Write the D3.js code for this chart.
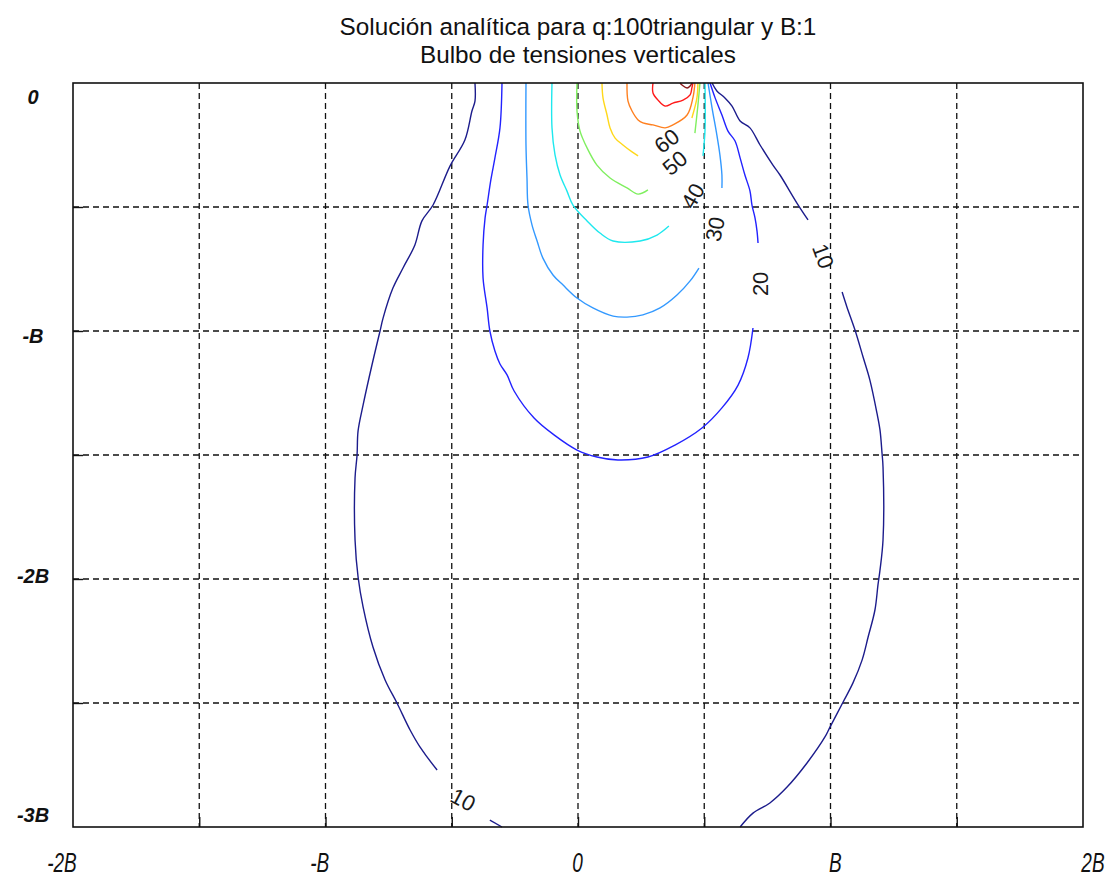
<!DOCTYPE html>
<html>
<head>
<meta charset="utf-8">
<script src="https://cdn.jsdelivr.net/npm/d3@7"></script>
<style>
  html, body { margin: 0; padding: 0; background: #fff; }
  svg { display: block; }
</style>
</head>
<body>
<svg id="chart" width="1111" height="880"></svg>
<script>
// Vertical stress bulb under a triangular strip load (q = 100, B = 1).
// Coordinates are in units of B: x horizontal, z depth (negative downwards).

const titleLines = ["Solución analítica para q:100triangular y B:1", "Bulbo de tensiones verticales"];

const xTickValues = [-2, -1, 0, 1, 2];
const xTickLabels = ["-2B", "-B", "0", "B", "2B"];
const zTickValues = [0, -1, -2, -3];
const zTickLabels = ["0", "-B", "-2B", "-3B"];
const xGrid = [-1.5, -1, -0.5, 0, 0.5, 1, 1.5];
const zGrid = [-0.5, -1, -1.5, -2, -2.5];

const levels = [10, 20, 30, 40, 50, 60, 70, 80, 90];

// Each isoline is a list of traced pieces of [x, z] points.
const iso10 = [
  [[-0.408,0],[-0.408,-0.073],[-0.420,-0.113],[-0.448,-0.230],[-0.507,-0.335],[-0.574,-0.492],
   [-0.618,-0.556],[-0.646,-0.653],[-0.693,-0.746],[-0.733,-0.827],[-0.772,-0.948],[-0.784,-1.000],
   [-0.816,-1.137],[-0.851,-1.298],[-0.871,-1.403],[-0.875,-1.500],[-0.883,-1.593],[-0.883,-1.843],
   [-0.871,-1.992],[-0.851,-2.113],[-0.812,-2.274],[-0.764,-2.407],[-0.717,-2.500],
   [-0.665,-2.609],[-0.626,-2.677],[-0.558,-2.770]],
  [[-0.349,-2.972],[-0.301,-3.0]],
  [[0.531,0],[0.550,-0.032],[0.582,-0.060],[0.610,-0.093],[0.642,-0.153],[0.681,-0.181],
   [0.721,-0.250],[0.772,-0.331],[0.800,-0.371],[0.867,-0.484],[0.911,-0.552]],
  [[1.046,-0.843],[1.065,-0.903],[1.097,-0.996],[1.129,-1.105],[1.156,-1.198],[1.184,-1.331],
   [1.196,-1.399],[1.204,-1.492],[1.208,-1.548],[1.208,-1.843],[1.196,-1.964],[1.188,-2.024],
   [1.176,-2.125],[1.149,-2.234],[1.125,-2.327],[1.089,-2.419],[1.050,-2.496],[0.998,-2.597],
   [0.978,-2.637],[0.907,-2.742],[0.828,-2.839],[0.760,-2.903],[0.693,-2.944],[0.642,-3.0]]
];
const iso20 = [
  [[-0.301,0],[-0.309,-0.181],[-0.329,-0.302],[-0.345,-0.390],[-0.360,-0.492],
   [-0.368,-0.544],[-0.376,-0.653],[-0.376,-0.786],[-0.360,-0.907],[-0.349,-1.000],[-0.329,-1.081],
   [-0.309,-1.133],[-0.281,-1.177],[-0.253,-1.242],[-0.174,-1.351],[-0.095,-1.419],[-0.004,-1.480],
   [0.075,-1.508],[0.158,-1.520],[0.277,-1.508],[0.384,-1.460],[0.491,-1.391],[0.570,-1.310],
   [0.634,-1.218],[0.673,-1.109],[0.693,-0.988]],
  [[0.523,0],[0.543,-0.060],[0.570,-0.129],[0.594,-0.194],[0.622,-0.234],[0.642,-0.302],
   [0.661,-0.371],[0.681,-0.435],[0.689,-0.492],[0.701,-0.544],[0.709,-0.597],[0.713,-0.645]]
];
const iso30 = [
  [[-0.206,0],[-0.206,-0.250],[-0.202,-0.383],[-0.198,-0.492],[-0.182,-0.573],[-0.162,-0.637],
   [-0.139,-0.706],[-0.099,-0.774],[-0.059,-0.815],[-0.004,-0.867],[0.059,-0.907],[0.139,-0.940],
   [0.194,-0.944],[0.257,-0.935],[0.325,-0.907],[0.392,-0.855],[0.444,-0.798],[0.479,-0.746]],
  [[0.515,0],[0.531,-0.101],[0.550,-0.210],[0.562,-0.290],[0.570,-0.371],[0.570,-0.423]]
];
const iso40 = [
  [[-0.103,0],[-0.103,-0.181],[-0.091,-0.290],[-0.071,-0.371],[-0.044,-0.435],[-0.020,-0.492],
   [0.036,-0.556],[0.087,-0.605],[0.139,-0.637],[0.246,-0.637],[0.313,-0.613],[0.360,-0.577]],
  [[0.503,0],[0.503,-0.190],[0.495,-0.294]]
];
const iso50 = [
  [[-0.004,0],[-0.004,-0.113],[0.008,-0.194],[0.036,-0.262],[0.075,-0.331],[0.127,-0.383],
   [0.194,-0.423],[0.238,-0.448],[0.277,-0.431]],
  [[0.483,0],[0.475,-0.089],[0.463,-0.202]]
];
const iso60 = [
  [[0.095,0],[0.099,-0.060],[0.115,-0.129],[0.127,-0.181],[0.147,-0.222],[0.178,-0.250],
   [0.214,-0.278],[0.238,-0.294]],
  [[0.475,0],[0.471,-0.060],[0.451,-0.141]]
];
const iso70 = [
  [[0.194,0],[0.198,-0.073],[0.214,-0.113],[0.238,-0.149],[0.257,-0.161],[0.297,-0.169],
   [0.345,-0.181],[0.376,-0.169],[0.432,-0.129],[0.455,-0.060],[0.463,0]]
];
const iso80 = [
  [[0.297,0],[0.297,-0.040],[0.317,-0.069],[0.345,-0.093],[0.376,-0.081],[0.416,-0.069],
   [0.444,-0.048],[0.451,-0.020],[0.455,0]]
];
const iso90 = [
  [[0.404,0],[0.412,-0.008],[0.432,-0.020],[0.444,-0.012],[0.451,0]]
];
const isolines = [iso10, iso20, iso30, iso40, iso50, iso60, iso70, iso80, iso90];

// Inline level labels: value, anchor point [x, z], rotation in degrees.
const labelValues = [60, 50, 40, 30, 20, 10, 10];
const labelPoints = [[0.352,-0.234],[0.384,-0.323],[0.455,-0.456],[0.543,-0.589],[0.721,-0.810],[0.970,-0.698],[-0.455,-2.891]];
const labelAngles = [-38, -40, -60, -78, -90, 70, 28];

const levelColors = ["#1c1c8c", "#2222ff", "#3399ff", "#1ee8ee", "#7fef5f", "#ffd81a", "#ff8020", "#ff1a1a", "#8b1a1a"];

const svg = d3.select("#chart");
const plotLeft = 73, plotRight = 1083, plotTop = 83, plotBottom = 827;

const x = d3.scaleLinear().domain([-2, 2]).range([plotLeft, plotRight]);
const z = d3.scaleLinear().domain([0, -3]).range([plotTop, plotBottom]);
// Tick text is spread slightly wider than the frame.
const xText = d3.scaleLinear().domain([-2, 2]).range([62, 1093]);
const zText = d3.scaleLinear().domain([0, -3]).range([97, 815]);

svg.append("rect").attr("width", 1111).attr("height", 880).attr("fill", "#fff");

// Title
svg.append("g").selectAll("text").data(titleLines).join("text")
  .attr("x", x(0)).attr("y", (d, i) => 35 + i * 28)
  .attr("text-anchor", "middle")
  .attr("font-family", "'Liberation Sans', Arial, sans-serif")
  .attr("font-size", 24.3)
  .attr("fill", "#111")
  .text(d => d);

// Grid
const grid = svg.append("g").attr("stroke", "#111").attr("stroke-width", 1.3).attr("stroke-dasharray", "6,4");
grid.selectAll("line.gx").data(xGrid).join("line")
  .attr("x1", d => x(d)).attr("x2", d => x(d)).attr("y1", plotTop).attr("y2", plotBottom);
grid.selectAll("line.gz").data(zGrid).join("line")
  .attr("x1", plotLeft).attr("x2", plotRight).attr("y1", d => z(d)).attr("y2", d => z(d));

// Inward ticks on the bottom and left edges
const xAxis = d3.axisBottom(x).tickValues(d3.range(-1.5, 1.51, 0.5)).tickSizeInner(-10).tickSizeOuter(0).tickFormat("");
svg.append("g").attr("transform", `translate(0,${plotBottom})`).call(xAxis)
  .call(g => g.select(".domain").remove())
  .call(g => g.selectAll("line").attr("stroke", "#111").attr("stroke-width", 1.4));
const zAxis = d3.axisLeft(z).tickValues(d3.range(-0.5, -2.51, -0.5)).tickSizeInner(-10).tickSizeOuter(0).tickFormat("");
svg.append("g").attr("transform", `translate(${plotLeft},0)`).call(zAxis)
  .call(g => g.select(".domain").remove())
  .call(g => g.selectAll("line").attr("stroke", "#111").attr("stroke-width", 1.4));

// Isolines
const line = d3.line().x(d => x(d[0])).y(d => z(d[1])).curve(d3.curveCatmullRom.alpha(0.5));
const isoG = svg.append("g").attr("fill", "none").attr("stroke-width", 1.4).attr("stroke-linejoin", "round");
isolines.forEach((pieces, i) => {
  isoG.append("g").attr("stroke", levelColors[i])
    .selectAll("path").data(pieces).join("path").attr("d", line);
});

// Level labels
svg.append("g").selectAll("text").data(labelValues).join("text")
  .attr("transform", (d, i) => `translate(${x(labelPoints[i][0])},${z(labelPoints[i][1])}) rotate(${labelAngles[i]})`)
  .attr("text-anchor", "middle")
  .attr("dominant-baseline", "central")
  .attr("font-family", "'Liberation Sans', Arial, sans-serif")
  .attr("font-size", 22)
  .attr("fill", "#1a1a1a")
  .text(d => d);

// Frame
svg.append("rect").attr("x", plotLeft).attr("y", plotTop).attr("width", plotRight - plotLeft).attr("height", plotBottom - plotTop)
  .attr("fill", "none").attr("stroke", "#111").attr("stroke-width", 1.6);

// Tick text
svg.append("g").selectAll("text").data(xTickValues).join("text")
  .attr("transform", d => `translate(${xText(d)},872) scale(0.68,1)`)
  .attr("text-anchor", "middle")
  .attr("font-family", "'Liberation Sans', Arial, sans-serif")
  .attr("font-style", "italic")
  .attr("font-size", 28)
  .attr("fill", "#111")
  .text((d, i) => xTickLabels[i]);
svg.append("g").selectAll("text").data(zTickValues).join("text")
  .attr("x", 33).attr("y", d => zText(d))
  .attr("text-anchor", "middle")
  .attr("dominant-baseline", "central")
  .attr("font-family", "'Liberation Sans', Arial, sans-serif")
  .attr("font-style", "italic")
  .attr("font-weight", "bold")
  .attr("font-size", 20)
  .attr("fill", "#111")
  .text((d, i) => zTickLabels[i]);
</script>
</body>
</html>
